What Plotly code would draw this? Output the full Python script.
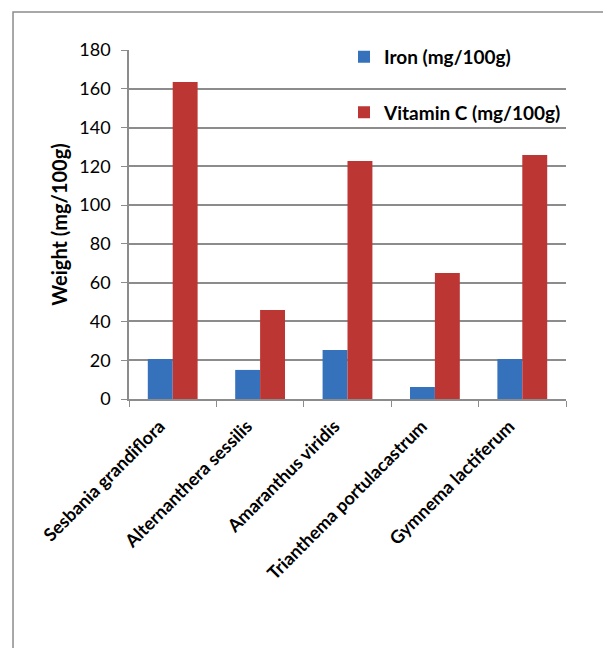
import plotly.graph_objects as go

categories = ["Sesbania grandiflora", "Alternanthera sessilis", "Amaranthus viridis",
              "Trianthema portulacastrum", "Gymnema lactiferum"]
iron = [20.6, 15.0, 25.3, 6.2, 20.6]
vitamin_c = [163.5, 45.9, 122.7, 65.0, 125.8]
series_names = ["Iron (mg/100g)", "Vitamin C (mg/100g)"]
y_ticks = [0, 20, 40, 60, 80, 100, 120, 140, 160, 180]

FONT = "Lato, 'Open Sans', sans-serif"

fig = go.Figure()
fig.add_trace(go.Bar(x=categories, y=iron, name=series_names[0], legendgroup="a",
                     marker=dict(color="#3672BC", line=dict(width=0))))
fig.add_trace(go.Bar(x=categories, y=vitamin_c, name=series_names[1], legendgroup="b",
                     marker=dict(color="#BC3633", line=dict(width=0))))

fig.update_layout(
    width=611, height=648,
    margin=dict(l=121, r=53, t=42, b=257),
    paper_bgcolor="white", plot_bgcolor="white",
    barmode="group", bargap=0.43, bargroupgap=0,
    font=dict(family=FONT, size=18, color="black"),
    legend=dict(x=0.492, y=1.035, xanchor="left", yanchor="top",
                font=dict(family=FONT, size=19, color="black", weight="bold"),
                tracegroupgap=28, bgcolor="rgba(0,0,0,0)", itemwidth=30),
    showlegend=True,
)
fig.update_yaxes(range=[0, 180], tickvals=y_ticks, showgrid=True, gridcolor="#8C8C8C",
                 gridwidth=1.5, showline=True, linecolor="#8C8C8C", linewidth=1.5,
                 ticks="outside", ticklen=6, tickcolor="#8C8C8C", zeroline=False,
                 tickfont=dict(size=18), ticklabelstandoff=7,
                 title=dict(text="Weight (mg/100g)", standoff=6,
                            font=dict(size=20, weight="bold")))
fig.update_xaxes(showline=True, linecolor="#8C8C8C", linewidth=1.5, ticks="outside",
                 tickson="boundaries", ticklen=6, tickcolor="#8C8C8C", tickangle=-45,
                 tickfont=dict(size=18, weight="bold"), showgrid=False,
                 ticklabelshift=-13, ticklabelstandoff=8)

fig.add_shape(type="rect", xref="paper", yref="paper",
              x0=-0.2654, x1=2.0, y0=-2.0, y1=1.1089,
              line=dict(color="#8C8C8C", width=1.5), fillcolor="rgba(0,0,0,0)", layer="below")

fig.write_html("out.html")
